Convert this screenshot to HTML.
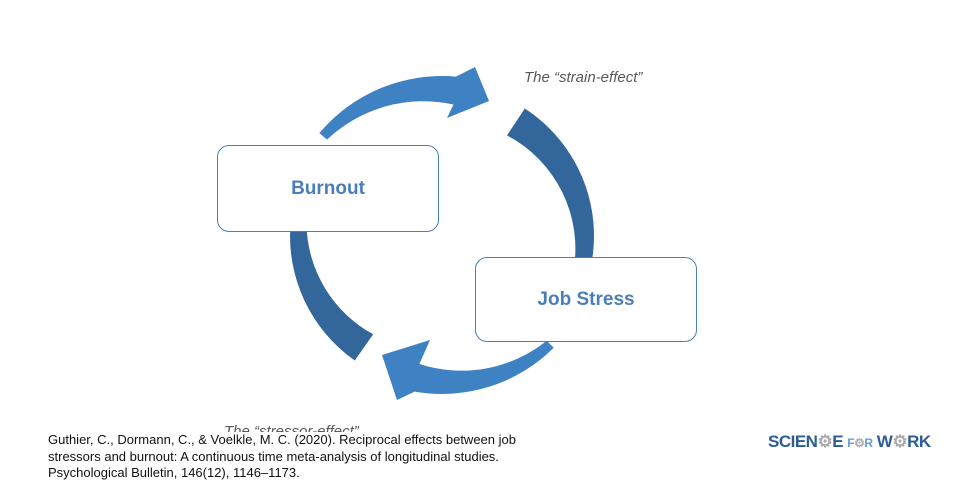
<!DOCTYPE html>
<html><head><style>
body{margin:0;width:960px;height:500px;background:#fff;position:relative;overflow:hidden;font-family:"Liberation Sans",sans-serif}
.box{position:absolute;border:1px solid #4a7ebb;border-radius:12px;background:#fff;color:#4a7ebb;font-weight:bold;font-size:19px;display:flex;align-items:center;justify-content:center}
.lbl{position:absolute;font-style:italic;color:#595959;font-size:15px}
.cite{position:absolute;left:0;top:432px;width:700px;height:60px;background:#fff;padding-left:48px;box-sizing:border-box;font-size:13px;line-height:16.5px;color:#111;padding-top:0}
</style></head><body>
<svg width="960" height="500" style="position:absolute;left:0;top:0">
<path d="M524.8 108.5 A152 152 0 0 1 588.8 275.3 L573.4 271.2 A128 128 0 0 0 507 135.4 Z" fill="#33679c"/>
<path d="M290.6 222.8 A152 152 0 0 0 354.8 360.5 L373.2 334.3 A128 128 0 0 1 306.5 224.1 Z" fill="#33679c"/>
<path d="M319.4 133.1 A160 160 0 0 1 456 76.6 L475 67 L489 101 L447 118 L453.5 104.5 A140 140 0 0 0 327 139.6 Z" fill="#3f82c4"/>
<path d="M553.7 347.7 A158 158 0 0 1 414.6 391.6 L397 400 L382 355 L430 340 L419.4 364 A136 136 0 0 0 546.7 340.7 Z" fill="#3f82c4"/>
</svg>
<div class="box" style="left:217px;top:145px;width:220px;height:85px">Burnout</div>
<div class="box" style="left:475px;top:257px;width:220px;height:83px">Job Stress</div>
<div class="lbl" style="left:524px;top:69px">The “strain-effect”</div>
<div class="lbl" style="left:224px;top:423px">The “stressor-effect”</div>
<div class="cite">Guthier, C., Dormann, C., &amp; Voelkle, M. C. (2020). Reciprocal effects between job<br>stressors and burnout: A continuous time meta-analysis of longitudinal studies.<br>Psychological Bulletin, 146(12), 1146–1173.</div>
<div style="position:absolute;left:768px;top:432px;font-weight:bold;font-size:17px;letter-spacing:-0.5px;color:#2b5d94">SCIEN<span style="color:#aaa">⚙</span>E <span style="font-size:12px;color:#6b9bd1">F<span style="color:#aaa">⚙</span>R</span> W<span style="color:#aaa">⚙</span>RK</div>
</body></html>
